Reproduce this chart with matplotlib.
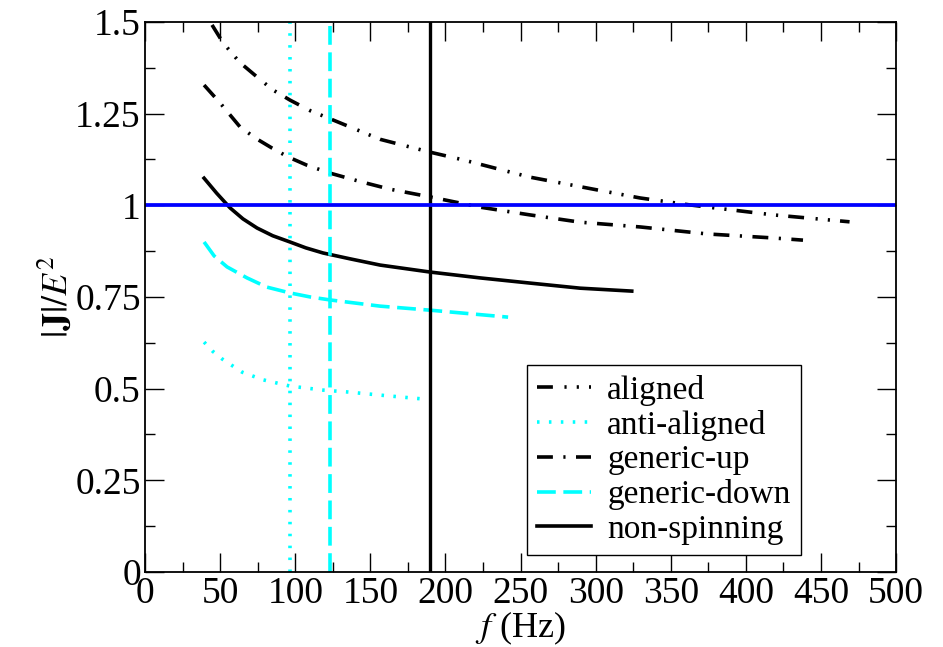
import matplotlib
matplotlib.use("Agg")
import matplotlib.pyplot as plt
from matplotlib.ticker import MultipleLocator

plt.rcParams['font.family'] = ['Liberation Serif', 'DejaVu Serif']
plt.rcParams['mathtext.fontset'] = 'stix'

# |J|/E^2 along each run, read at a few frequencies (Hz)
f_aligned = [44.6, 52, 63, 74.6, 85, 96.5, 110, 125, 156.5, 189.7, 211.7, 256, 301, 329.6, 362.8, 418, 469]
j_aligned = [1.492, 1.443, 1.39, 1.35, 1.315, 1.287, 1.258, 1.233, 1.18, 1.145, 1.124, 1.077, 1.042, 1.02, 1.001, 0.974, 0.955]

f_generic_up = [39.3, 50, 63.2, 74, 84.6, 95.2, 108, 123, 143, 163, 189.7, 223, 256, 289.6, 329.6, 374, 418, 438]
j_generic_up = [1.328, 1.279, 1.214, 1.182, 1.156, 1.132, 1.109, 1.088, 1.065, 1.044, 1.023, 0.995, 0.974, 0.954, 0.941, 0.922, 0.911, 0.905]

f_nonspin = [39.3, 47.7, 56.6, 65.2, 74.6, 85, 96.5, 107, 118.5, 136.5, 156.5, 189.7, 223, 256, 289.6, 324]
j_nonspin = [1.074, 1.033, 0.993, 0.963, 0.938, 0.917, 0.900, 0.884, 0.870, 0.854, 0.837, 0.818, 0.802, 0.788, 0.774, 0.766]

f_generic_down = [39.3, 46, 54.6, 67.9, 81, 96.5, 110, 123, 156.5, 189.7, 241.7]
j_generic_down = [0.9, 0.862, 0.832, 0.802, 0.777, 0.761, 0.75, 0.742, 0.725, 0.714, 0.695]

f_anti = [39.3, 45, 51.3, 64.6, 78.6, 96.5, 118.5, 134.5, 160, 184.4]
j_anti = [0.627, 0.602, 0.581, 0.545, 0.524, 0.507, 0.496, 0.491, 0.481, 0.472]

# frequencies marked with vertical lines
f_mark_anti = 96.5
f_mark_down = 123.2
f_mark_nonspin = 189.7
j_ref = 1.0

fig = plt.figure(figsize=(9.43, 6.47), dpi=100)
ax = fig.add_axes([0.1538, 0.116, 0.7965, 0.85])

lw = 2.6
dash_dot_dot = [4.4, 3.2, 0.6, 2.8, 0.6, 2.8]
dash_dot = [4.4, 2.9, 0.6, 2.9]
dotted = [0.7, 2.6]
dashed = [5.2, 2.1]

ax.plot(f_aligned, j_aligned, color='black', lw=lw, dashes=dash_dot_dot,
        label='aligned')
ax.plot(f_anti, j_anti, color='cyan', lw=lw, dashes=dotted,
        label='anti-aligned')
ax.plot(f_generic_up, j_generic_up, color='black', lw=lw, dashes=dash_dot,
        label='generic-up')
ax.plot(f_generic_down, j_generic_down, color='cyan', lw=lw, dashes=dashed,
        label='generic-down')
ax.plot(f_nonspin, j_nonspin, color='black', lw=lw, label='non-spinning')

ax.axvline(f_mark_anti, color='cyan', lw=lw, dashes=dotted)
ax.axvline(f_mark_down, color='cyan', lw=lw, dashes=dashed)
ax.axvline(f_mark_nonspin, color='black', lw=2.4)
ax.axhline(j_ref, color='blue', lw=2.7)

ax.set_xlim(0, 500)
ax.set_ylim(0, 1.5)
ax.xaxis.set_major_locator(MultipleLocator(50))
ax.xaxis.set_minor_locator(MultipleLocator(25))
ax.yaxis.set_minor_locator(MultipleLocator(0.125))
ax.set_yticks([0, 0.25, 0.5, 0.75, 1, 1.25, 1.5])
ax.set_yticklabels(['0', '0.25', '0.5', '0.75', '1', '1.25', '1.5'])
ax.tick_params(which='both', direction='in', top=True, right=True,
               labelsize=27, width=1)
ax.tick_params(which='major', length=14, pad=3)
ax.tick_params(which='minor', length=7)
for s in ax.spines.values():
    s.set_linewidth(1.3)

ax.set_xlabel(r'$f\ $(Hz)', fontsize=26, labelpad=-1)
ax.set_ylabel(r'$|\mathbf{J}|/E^2$', fontsize=26, labelpad=0)

leg = ax.legend(loc='lower left', bbox_to_anchor=(0.509, 0.031),
                borderaxespad=0, fontsize=24, handlelength=1.6,
                handletextpad=0.5, labelspacing=0.12, fancybox=False,
                framealpha=1, edgecolor='black', borderpad=0.3)
leg.get_frame().set_linewidth(1.0)

fig.savefig('out.png', dpi=100)
